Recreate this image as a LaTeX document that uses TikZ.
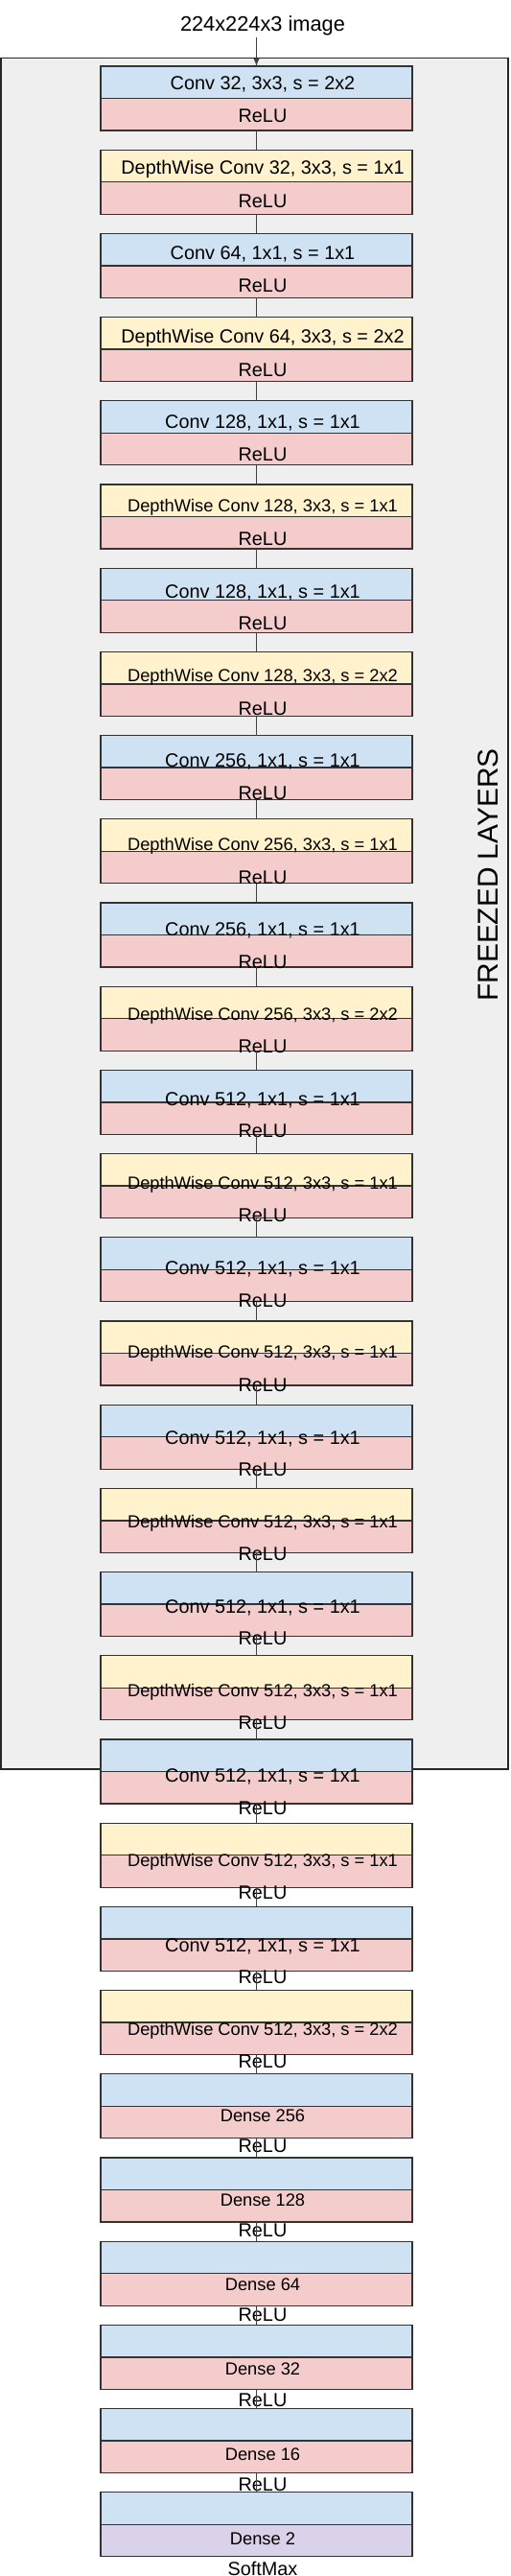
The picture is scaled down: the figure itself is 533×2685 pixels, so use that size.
\documentclass[tikz,border=0pt]{standalone}
\usepackage{fontspec}
\setmainfont{Liberation Sans}
\usepackage{xcolor}
\usetikzlibrary{arrows.meta}
\definecolor{convblue}{HTML}{CFE2F3}
\definecolor{relupink}{HTML}{F4CCCC}
\definecolor{dwyellow}{HTML}{FFF2CC}
\definecolor{outpurple}{HTML}{D9D2E9}
\definecolor{frzgray}{HTML}{EFEFEF}

\begin{document}
\begin{tikzpicture}[x=0.02cm, y=-0.02cm, half/.style={draw=black!80, line width=0.75pt, minimum width=6.5cm, minimum height=0.67cm, inner sep=0, outer sep=0}, conv/.style={half,fill=convblue}, dw/.style={half,fill=dwyellow}, relu/.style={half,fill=relupink}, soft/.style={half,fill=outpurple}, txt/.style={inner sep=0, font=\fontsize{11.3}{13}\selectfont}, small/.style={inner sep=0, font=\fontsize{10.4}{12}\selectfont}, frame/.style={draw=black!85, line width=0.75pt, fill=frzgray, minimum width=10.58cm, minimum height=35.68cm, inner sep=0}, link/.style={draw=black!75, line width=0.6pt}, arr/.style={-{Latex[length=4.5pt,width=3.5pt]}, draw=black!75, line width=0.6pt}]
\useasboundingbox (0,0) rectangle (533,2685);
\node[frame] (frz) at (265.5,952) {};
\node[rotate=90, inner sep=0, font=\fontsize{17}{20}\selectfont] (frzlbl) at (509,912) {FREEZED LAYERS};
\node[inner sep=1pt, font=\fontsize{12.4}{14}\selectfont] (img) at (274,27) {224x224x3 image};
% layer blocks: index / fill / text size / layer / activation
\foreach \i/\kind/\sz/\lay/\act/\actfill in {
  1/conv/txt/{Conv 32, 3x3, s = 2x2}/ReLU/relu,
  2/dw/txt/{DepthWise Conv 32, 3x3, s = 1x1}/ReLU/relu,
  3/conv/txt/{Conv 64, 1x1, s = 1x1}/ReLU/relu,
  4/dw/txt/{DepthWise Conv 64, 3x3, s = 2x2}/ReLU/relu,
  5/conv/txt/{Conv 128, 1x1, s = 1x1}/ReLU/relu,
  6/dw/small/{DepthWise Conv 128, 3x3, s = 1x1}/ReLU/relu,
  7/conv/txt/{Conv 128, 1x1, s = 1x1}/ReLU/relu,
  8/dw/small/{DepthWise Conv 128, 3x3, s = 2x2}/ReLU/relu,
  9/conv/txt/{Conv 256, 1x1, s = 1x1}/ReLU/relu,
  10/dw/small/{DepthWise Conv 256, 3x3, s = 1x1}/ReLU/relu,
  11/conv/txt/{Conv 256, 1x1, s = 1x1}/ReLU/relu,
  12/dw/small/{DepthWise Conv 256, 3x3, s = 2x2}/ReLU/relu,
  13/conv/txt/{Conv 512, 1x1, s = 1x1}/ReLU/relu,
  14/dw/small/{DepthWise Conv 512, 3x3, s = 1x1}/ReLU/relu,
  15/conv/txt/{Conv 512, 1x1, s = 1x1}/ReLU/relu,
  16/dw/small/{DepthWise Conv 512, 3x3, s = 1x1}/ReLU/relu,
  17/conv/txt/{Conv 512, 1x1, s = 1x1}/ReLU/relu,
  18/dw/small/{DepthWise Conv 512, 3x3, s = 1x1}/ReLU/relu,
  19/conv/txt/{Conv 512, 1x1, s = 1x1}/ReLU/relu,
  20/dw/small/{DepthWise Conv 512, 3x3, s = 1x1}/ReLU/relu,
  21/conv/txt/{Conv 512, 1x1, s = 1x1}/ReLU/relu,
  22/dw/small/{DepthWise Conv 512, 3x3, s = 1x1}/ReLU/relu,
  23/conv/txt/{Conv 512, 1x1, s = 1x1}/ReLU/relu,
  24/dw/small/{DepthWise Conv 512, 3x3, s = 2x2}/ReLU/relu,
  25/conv/small/{Dense 256}/ReLU/relu,
  26/conv/small/{Dense 128}/ReLU/relu,
  27/conv/small/{Dense 64}/ReLU/relu,
  28/conv/small/{Dense 32}/ReLU/relu,
  29/conv/small/{Dense 16}/ReLU/relu,
  30/conv/small/{Dense 2}/SoftMax/soft}{
  \pgfmathsetmacro\ytop{69+87.2*(\i-1)+16.75}
  \pgfmathsetmacro\ybot{\ytop+33.5}
  \pgfmathsetmacro\sh{2.5+(\i-1)}
  \pgfmathsetmacro\shb{2+0.95*(\i-1)}
  \node[\kind] (c\i) at (267.5,\ytop) {};
  \node[\actfill] (r\i) at (267.5,\ybot) {};
  \node[\sz] (t\i) at (274,{\ytop+\sh}) {\lay};
  \node[txt] (a\i) at (274,{\ybot+\shb}) {\act};
}
\draw[arr] (img.south -| c1.north) -- (c1.north);
\foreach \i [count=\j from 2] in {1,...,29}
  \draw[link] (r\i.south) -- (c\j.north);
\end{tikzpicture}
\end{document}
